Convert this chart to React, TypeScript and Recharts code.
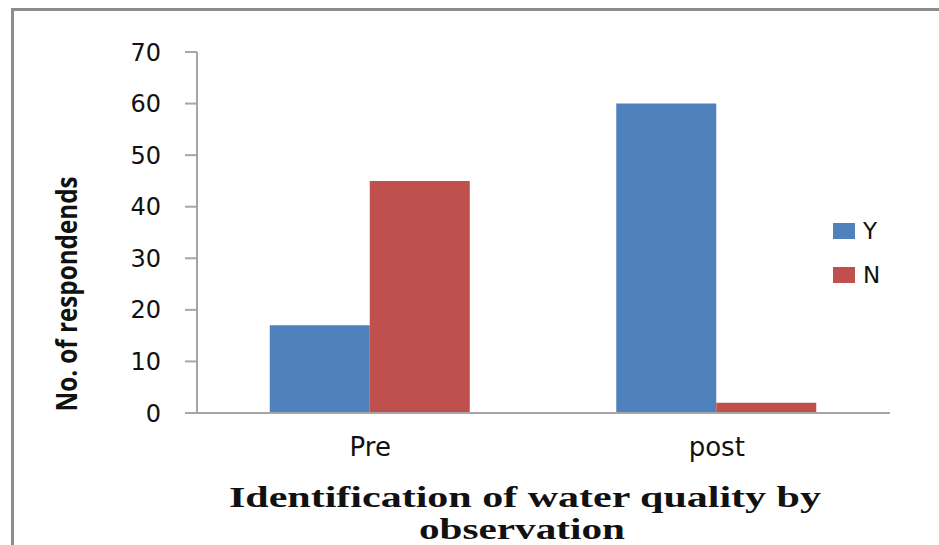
import React from "react";
import { BarChart, Bar, XAxis, YAxis } from "recharts";

const categories = ["Pre", "post"];
const yesValues = [17, 60];
const noValues = [45, 2];
const yTicks = [0, 10, 20, 30, 40, 50, 60, 70];

const AXIS = "#a6a6a6";
const series = [
  { key: "Y", color: "#4F81BD" },
  { key: "N", color: "#C0504D" },
];

const data = categories.map((c, i) => ({ cat: c, Y: yesValues[i], N: noValues[i] }));

const YTitle = () => (
  <text
    x={67}
    y={294}
    transform="rotate(-90 67 294)"
    textAnchor="middle"
    dy="0.36em"
    fontFamily="'Liberation Sans Narrow', 'Open Sans', sans-serif"
    fontWeight="bold"
    fontSize={29}
    fill="#111"
    textLength={235}
    lengthAdjust="spacingAndGlyphs"
  >
    No. of respondends
  </text>
);

const XTitle = () => (
  <g fontFamily="'Liberation Serif', 'Times New Roman', serif" fontWeight="bold" fontSize={30} fill="#111">
    <text x={525} y={507} textAnchor="middle" textLength={592} lengthAdjust="spacingAndGlyphs">
      Identification of water quality by
    </text>
    <text x={522} y={539} textAnchor="middle" textLength={206} lengthAdjust="spacingAndGlyphs">
      observation
    </text>
  </g>
);

export default function App() {
  return (
    <div style={{ position: "fixed", left: 0, top: 0, width: 939, height: 545, overflow: "hidden", background: "#fff" }}>
      <div style={{ position: "absolute", left: 11, top: 8, width: 1000, height: 600, border: "3px solid #8c8c8c" }} />
      <div style={{ position: "absolute", left: 0, top: 0 }}>
        <BarChart
          width={939}
          height={545}
          data={data}
          margin={{ top: 52, right: 49, left: 0, bottom: 0 }}
          barCategoryGap="21%"
          barGap={0}
        >
          <XAxis
            xAxisId="edge"
            type="number"
            domain={[0, 2]}
            ticks={[0, 1, 2]}
            tick={false}
            tickSize={9}
            tickLine={{ stroke: AXIS, strokeWidth: 2 }}
            axisLine={false}
            height={0}
          />
          <XAxis
            xAxisId="cat"
            dataKey="cat"
            height={132}
            tickLine={false}
            tickSize={0}
            tickMargin={25}
            axisLine={{ stroke: AXIS, strokeWidth: 2 }}
            tick={{ fontFamily: "'DejaVu Sans', Verdana, sans-serif", fontSize: 26, fill: "#111" }}
            label={<XTitle />}
          />
          <YAxis
            width={197}
            domain={[0, 70]}
            ticks={yTicks}
            interval={0}
            tickSize={12}
            tickMargin={24}
            axisLine={{ stroke: AXIS, strokeWidth: 2 }}
            tickLine={{ stroke: AXIS, strokeWidth: 2 }}
            tick={{ fontFamily: "'DejaVu Sans', Verdana, sans-serif", fontSize: 24, fill: "#111" }}
            label={<YTitle />}
          />
          {series.map((s) => (
            <Bar key={s.key} xAxisId="cat" dataKey={s.key} fill={s.color} isAnimationActive={false} />
          ))}
        </BarChart>
      </div>
      {/* legend */}
      <div
        style={{
          position: "absolute",
          left: 833,
          top: 209,
          fontFamily: "'DejaVu Sans', Verdana, sans-serif",
          fontSize: 23,
          color: "#111",
        }}
      >
        {series.map((s) => (
          <div key={s.key} style={{ display: "flex", alignItems: "center", height: 44 }}>
            <span style={{ width: 22, height: 16, background: s.color, display: "inline-block", marginRight: 8 }} />
            <span>{s.key}</span>
          </div>
        ))}
      </div>
    </div>
  );
}
